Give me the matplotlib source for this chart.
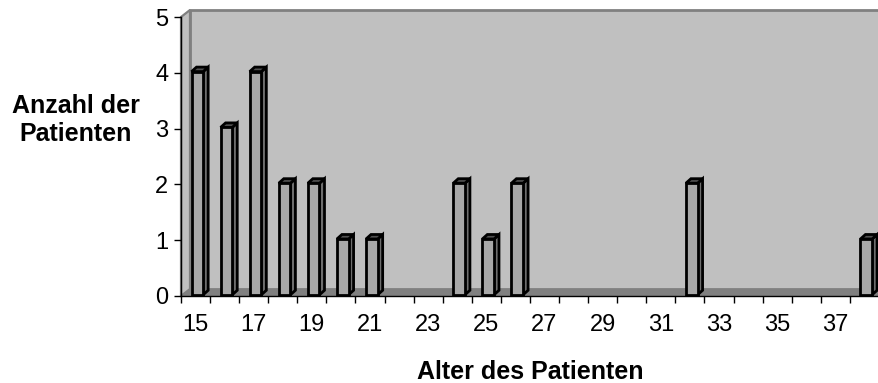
import matplotlib
matplotlib.use("Agg")
import matplotlib.pyplot as plt
from matplotlib.patches import Polygon

plt.rcParams['font.family'] = ['Liberation Sans', 'DejaVu Sans']

# Alter (15..38) und Anzahl der Patienten
ages = list(range(15, 39))
counts = [4, 3, 4, 2, 2, 1, 1, 0, 0, 2, 1, 2, 0, 0, 0, 0, 0, 2, 0, 0, 0, 0, 0, 1]
tick_labels = [str(a) if (a - 15) % 2 == 0 else '' for a in ages]

n = len(ages)
fig = plt.figure(figsize=(8.79, 3.83), dpi=100)
ax = fig.add_axes([181 / 879, 1 - 296 / 383, 698 / 879, 279 / 383])
ax.set_xlim(0, n)
ax.set_ylim(0, 5)

# 3D-Tiefe der Waende (in Daten-Einheiten)
px_x = n / 698.0
px_y = 5 / 279.0
dx, dy = 9 * px_x, 7 * px_y

wall = '#c0c0c0'
floor = '#808080'
edge = '#808080'

# Rueckwand
ax.add_patch(Polygon([(dx, dy), (n + dx, dy), (n + dx, 5 + dy), (dx, 5 + dy)],
                     closed=True, fc=wall, ec=edge, lw=2, clip_on=False, zorder=0))
# linke Seitenwand
ax.add_patch(Polygon([(0, 0), (dx, dy), (dx, 5 + dy), (0, 5)],
                     closed=True, fc=wall, ec=edge, lw=1.6, clip_on=False, zorder=0.5))
# Boden
ax.add_patch(Polygon([(0, 0), (n, 0), (n + dx, dy), (dx, dy)],
                     closed=True, fc=floor, ec='none', clip_on=False, zorder=0.6))

# Saeulen
w = 0.40
sx, sy = 1.8 * px_x, 1.2 * px_y
bdx, bdy = 5 * px_x, 4.5 * px_y
for i, v in enumerate(counts):
    if v <= 0:
        continue
    x0 = i + 0.5 - w / 2 + sx
    x1 = x0 + w
    y0 = sy
    y1 = v + sy
    side = [(x1, y0), (x1 + bdx, y0 + bdy), (x1 + bdx, y1 + bdy), (x1, y1)]
    top = [(x0, y1), (x1, y1), (x1 + bdx, y1 + bdy), (x0 + bdx, y1 + bdy)]
    front = [(x0, y0), (x1, y0), (x1, y1), (x0, y1)]
    ax.add_patch(Polygon(side, closed=True, fc='#6e6e6e', ec='black', lw=2,
                         joinstyle='miter', clip_on=True, zorder=2))
    ax.add_patch(Polygon(top, closed=True, fc='#505050', ec='black', lw=2,
                         joinstyle='miter', clip_on=True, zorder=2))
    ax.add_patch(Polygon(front, closed=True, fc='#a8a8a8', ec='black', lw=2,
                         joinstyle='miter', clip_on=True, zorder=3))

ax.set_facecolor('none')
for s in ['top', 'right']:
    ax.spines[s].set_visible(False)
for s in ['left', 'bottom']:
    ax.spines[s].set_linewidth(1.0)
    ax.spines[s].set_zorder(5)

ax.set_xticks(range(n + 1), minor=False)
ax.set_xticklabels([''] * (n + 1))
ax.set_xticks([i + 0.5 for i in range(n)], minor=True)
ax.set_xticklabels(tick_labels, minor=True, fontsize=17)
ax.tick_params(axis='x', which='major', direction='out', length=5, width=1)
ax.tick_params(axis='x', which='minor', length=0, pad=13)
ax.set_yticks(range(6))
ax.tick_params(axis='y', direction='out', length=5, width=1, pad=4, labelsize=17)

fig.text(76 / 879, 1 - 120 / 383, 'Anzahl der\nPatienten', ha='center', va='center',
         fontsize=18, fontweight='bold', linespacing=1.25)
fig.text(530 / 879, 1 - 379 / 383, 'Alter des Patienten', ha='center', va='baseline',
         fontsize=18, fontweight='bold')

fig.savefig('out.png', dpi=100)
